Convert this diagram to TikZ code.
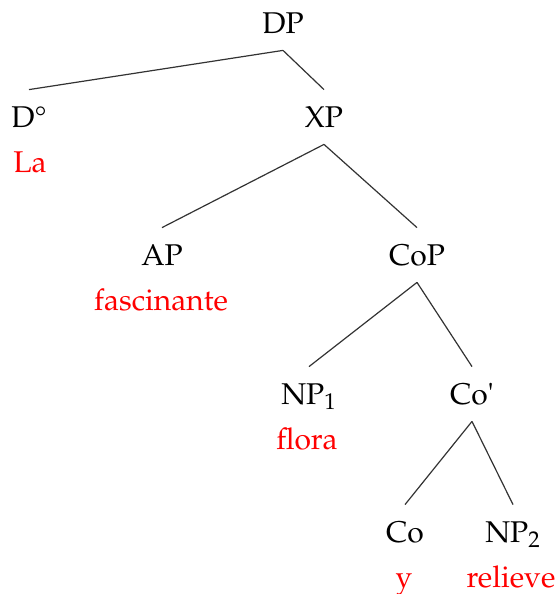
\documentclass[tikz,border=0pt]{standalone}
\usepackage[T1]{fontenc}
\usepackage{mathpazo}

\begin{document}
\begin{tikzpicture}[x=0.5pt,y=-0.5pt,
  cat/.style={font=\fontsize{15}{18}\selectfont, anchor=base, inner xsep=0pt, inner ysep=8pt, text height=10.5pt, text depth=0.5pt},
  word/.style={font=\fontsize{15}{18}\selectfont, anchor=base, inner sep=0pt, text=red},
  branch/.style={line width=0.6pt, black!80}]

\useasboundingbox (0,0) rectangle (555,594);

\node[cat] (DP) at (283,33) {DP};
\node[cat] (D) at (29,127) {D\textdegree};
\node[cat] (XP) at (324,127) {XP};
\node[cat] (AP) at (162,265) {AP};
\node[cat] (CoP) at (417,265) {CoP};
\node[cat] (NPa) at (309,404) {NP$_1$};
\node[cat] (Cobar) at (472,404) {Co\textquotesingle};
\node[cat] (Co) at (405,542) {Co};
\node[cat] (NPb) at (513,542) {NP$_2$};

\node[word] (La) at (30,172) {La};
\node[word] (fascinante) at (161,310) {fascinante};
\node[word] (flora) at (307,449) {flora};
\node[word] (y) at (404,587) {y};
\node[word] (relieve) at (511,587) {relieve};

\draw[branch] (DP.south) -- (D.north);
\draw[branch] (DP.south) -- (XP.north);
\draw[branch] (XP.south) -- (AP.north);
\draw[branch] (XP.south) -- (CoP.north);
\draw[branch] (CoP.south) -- (NPa.north);
\draw[branch] (CoP.south) -- (Cobar.north);
\draw[branch] (Cobar.south) -- (Co.north);
\draw[branch] (Cobar.south) -- (NPb.north);

\end{tikzpicture}
\end{document}
